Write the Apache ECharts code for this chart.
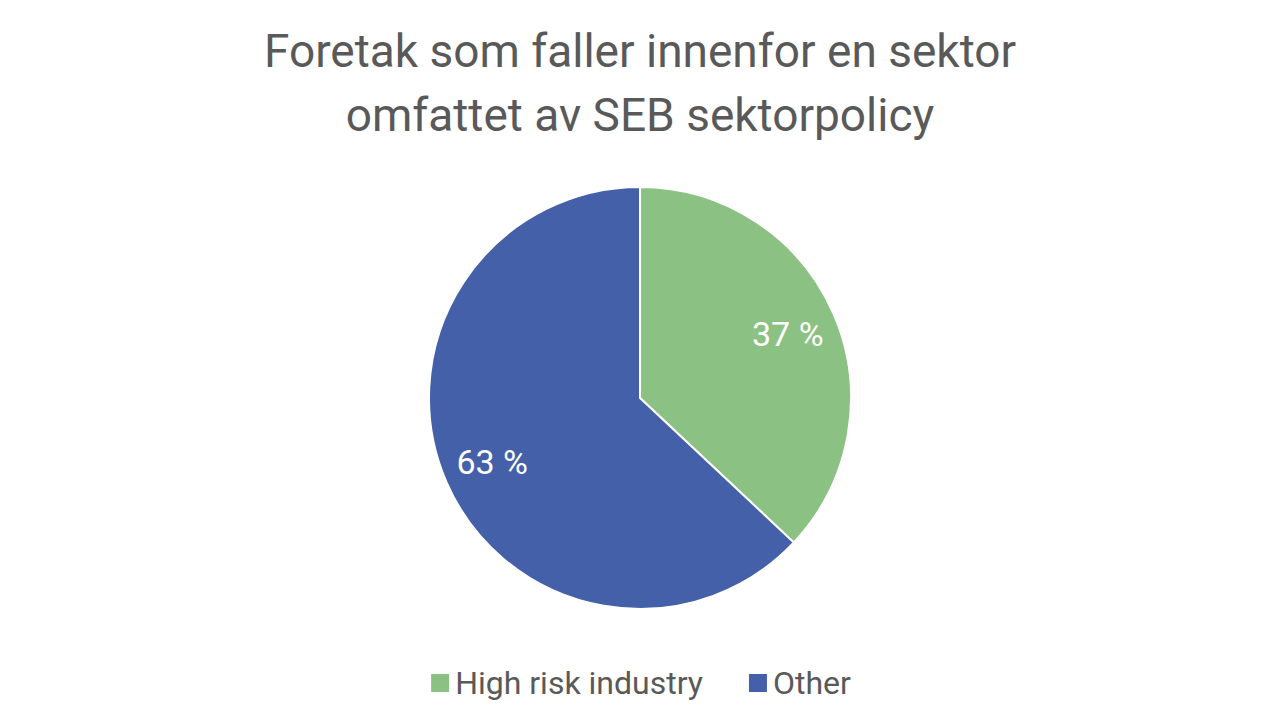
<!DOCTYPE html>
<html><head><meta charset="utf-8">
<script src="https://cdn.jsdelivr.net/npm/echarts@6/dist/echarts.min.js"></script>
<style>html,body{margin:0;background:#fff}#main{width:1280px;height:720px}</style>
</head><body><div id="main"></div>
<script>
let categories = ['High risk industry', 'Other'];
let values = [37, 63];
let colors = ['#8BC182', '#4460A8'];

let chart = echarts.init(document.getElementById('main'), null, {renderer: 'svg'});
let pieData = categories.map((name, i) => ({name: name, value: values[i], itemStyle: {color: colors[i]}}));

chart.setOption({
    title: {
        text: 'Foretak som faller innenfor en sektor\nomfattet av SEB sektorpolicy',
        left: 'center',
        top: 14,
        textStyle: {fontFamily: 'Roboto', fontWeight: 400, fontSize: 46, lineHeight: 64, color: '#595959'}
    },
    legend: {
        bottom: 16,
        left: 'center',
        icon: 'rect',
        itemWidth: 20,
        itemHeight: 20,
        itemGap: 44,
        textStyle: {fontFamily: 'Roboto', fontSize: 32, color: '#595959'},
        data: categories
    },
    series: [
        {
            type: 'pie',
            center: [640, 398],
            radius: [0, 211],
            startAngle: 90,
            clockwise: true,
            silent: true,
            itemStyle: {borderColor: '#fff', borderWidth: 2},
            label: {show: false},
            labelLine: {show: false},
            data: pieData
        },
        {
            type: 'pie',
            center: [640, 398],
            radius: [105, 211],
            startAngle: 90,
            clockwise: true,
            silent: true,
            legendHoverLink: false,
            itemStyle: {color: 'transparent'},
            label: {
                show: true,
                position: 'inside',
                formatter: '{c} %',
                fontFamily: 'Roboto',
                fontSize: 34,
                color: '#fff'
            },
            labelLine: {show: false},
            data: categories.map((name, i) => ({name: name + ' ', value: values[i]}))
        }
    ]
});
</script>
</body></html>
